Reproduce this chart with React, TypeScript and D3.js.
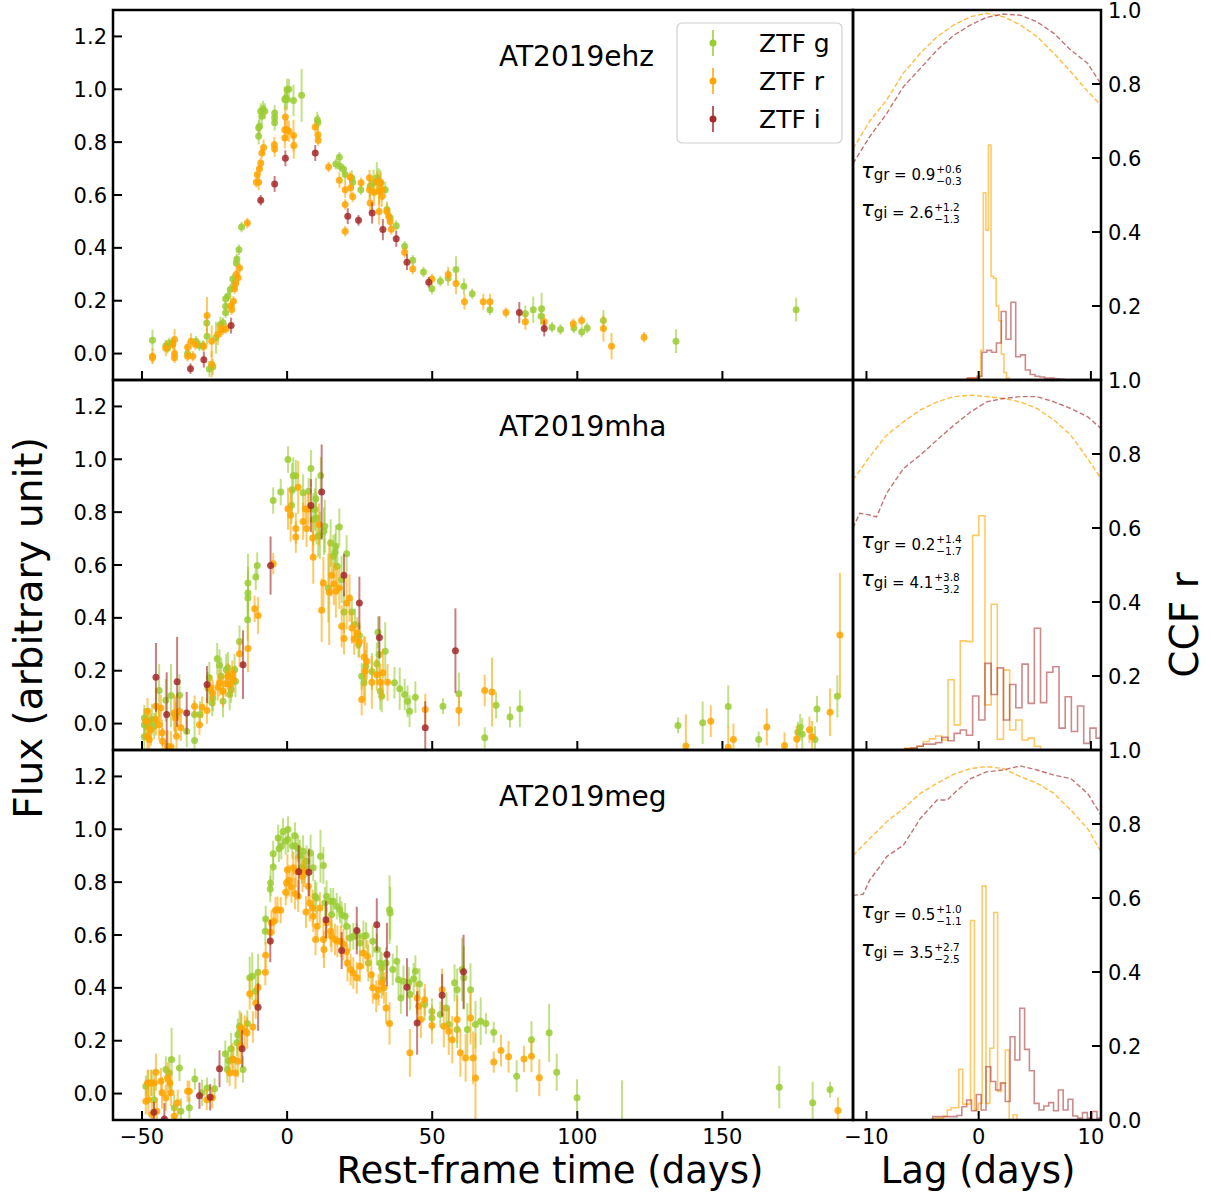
import { useEffect } from 'react'
import * as d3 from 'd3'

const FONT = 'DejaVu Sans, sans-serif'
const COLORS = { g: '#9acd32', r: '#ffa500', i: '#a52a2a' }

// page layout (px)
const W = 1211
const H = 1195
const LC_LEFT = 113
const SPLIT = 853
const CCF_RIGHT = 1101
const ROW_TOPS = [10, 380, 750]
const ROW_H = 370
const TICK = 9

const LC_X_DOMAIN: [number, number] = [-60, 195]
const LC_Y_DOMAIN: [number, number] = [-0.1, 1.3]
const LAG_DOMAIN: [number, number] = [-11.2, 10.9]

const lcXTicks = [-50, 0, 50, 100, 150]
const lcYTicks = [0, 0.2, 0.4, 0.6, 0.8, 1.0, 1.2]
const lagTicks = [-10, 0, 10]
const ccfTicks = [0, 0.2, 0.4, 0.6, 0.8, 1.0]

const sourceNames = ['AT2019ehz', 'AT2019mha', 'AT2019meg']
const bandLabels = ['ZTF g', 'ZTF r', 'ZTF i']

// light curves: [rest-frame day, flux, error]
type Pt = [number, number, number]

const ehzG: Pt[] = [
  [-46.4, 0.05, 0.04], [-41.8, 0.03, 0.02], [-41.2, 0.02, 0.02], [-40.6, 0.04, 0.02], [-39.4, 0.04, 0.02],
  [-34.3, 0.0, 0.02], [-31.4, 0.047, 0.02], [-30.2, 0.03, 0.02], [-29.1, 0.03, 0.02], [-26.8, -0.058, 0.03],
  [-25.6, -0.05, 0.03], [-27.7, 0.116, 0.03], [-27.6, 0.066, 0.03], [-24.5, 0.06, 0.06], [-23, 0.11, 0.03],
  [-22.1, 0.117, 0.02], [-21.2, 0.207, 0.02], [-21.2, 0.179, 0.02], [-21.2, 0.154, 0.02], [-20.4, 0.217, 0.02],
  [-19.6, 0.242, 0.02], [-18.7, 0.282, 0.02], [-18.3, 0.26, 0.02], [-17.5, 0.343, 0.02], [-17.3, 0.358, 0.02],
  [-16.6, 0.393, 0.02], [-15.7, 0.479, 0.02], [-9.8, 0.822, 0.03], [-9.8, 0.854, 0.03], [-9.5, 0.86, 0.03],
  [-9.1, 0.917, 0.03], [-8.7, 0.898, 0.03], [-8.3, 0.926, 0.03], [-7.7, 0.917, 0.03], [-4.3, 0.91, 0.03],
  [-4.3, 0.892, 0.03], [-4.3, 0.873, 0.03], [-0.8, 0.961, 0.04], [-0.5, 0.967, 0.04], [0, 1.0, 0.04],
  [0.6, 1.0, 0.04], [0, 0.961, 0.04], [2.2, 0.958, 0.06], [5.0, 0.977, 0.1], [10.4, 0.885, 0.03],
  [10.6, 0.873, 0.03], [16.8, 0.717, 0.02], [18, 0.743, 0.02], [18.2, 0.709, 0.02], [19.4, 0.697, 0.02],
  [20, 0.678, 0.03], [22.3, 0.664, 0.03], [22.6, 0.648, 0.02], [25.4, 0.62, 0.02], [28.6, 0.633, 0.04],
  [29.8, 0.646, 0.05], [30.9, 0.665, 0.06], [31.5, 0.652, 0.05], [32.1, 0.646, 0.05], [33.8, 0.62, 0.03],
  [34.4, 0.545, 0.03], [35.5, 0.514, 0.02], [37.6, 0.484, 0.02], [40.5, 0.406, 0.02], [43.3, 0.353, 0.02],
  [47, 0.309, 0.02], [49.9, 0.245, 0.02], [52.8, 0.274, 0.02], [55.5, 0.286, 0.03], [58.2, 0.318, 0.05],
  [60.9, 0.255, 0.03], [63.8, 0.226, 0.02], [69.9, 0.166, 0.02], [82.1, 0.151, 0.03], [84.8, 0.166, 0.05],
  [87.7, 0.17, 0.06], [87.5, 0.141, 0.03], [91.3, 0.1, 0.02], [94.2, 0.091, 0.02], [98.8, 0.097, 0.02],
  [101.5, 0.082, 0.02], [103.4, 0.097, 0.02], [109, 0.125, 0.04], [134, 0.047, 0.045], [175.4, 0.166, 0.045],
]
const ehzR: Pt[] = [
  [-46.4, -0.01, 0.03], [-46.4, -0.016, 0.02], [-41.8, 0.02, 0.03], [-39.4, 0.034, 0.02], [-38.8, 0.053, 0.04],
  [-38.8, 0, 0.02], [-38.8, -0.016, 0.02], [-34.3, 0.024, 0.02], [-34.3, -0.01, 0.02], [-33.1, 0.047, 0.03],
  [-32.5, -0.01, 0.02], [-31.6, 0.034, 0.02], [-28.7, 0.028, 0.02], [-27.6, 0.144, 0.07], [-26, 0.047, 0.06],
  [-26, -0.04, 0.05], [-23.9, 0.072, 0.04], [-22.7, 0.093, 0.03], [-22.1, 0.09, 0.02], [-21.0, 0.095, 0.02],
  [-19.3, 0.182, 0.02], [-19.1, 0.167, 0.02], [-18.5, 0.198, 0.02], [-18.1, 0.245, 0.02], [-17.7, 0.265, 0.02],
  [-17.5, 0.3, 0.02], [-16.9, 0.287, 0.02], [-16.4, 0.324, 0.02], [-13.7, 0.494, 0.02], [-10.6, 0.648, 0.02],
  [-10.3, 0.677, 0.03], [-9.8, 0.648, 0.03], [-9.5, 0.699, 0.02], [-9.1, 0.721, 0.02], [-8.7, 0.759, 0.02],
  [-8.1, 0.78, 0.03], [-4.4, 0.79, 0.03], [-4.3, 0.774, 0.03], [-0.6, 0.895, 0.04], [-0.8, 0.816, 0.04],
  [-0.8, 0.847, 0.04], [0, 0.847, 0.04], [0.6, 0.841, 0.04], [2.2, 0.825, 0.06], [2.3, 0.787, 0.05],
  [9.7, 0.857, 0.02], [10.6, 0.828, 0.02], [10.7, 0.807, 0.02], [14.3, 0.706, 0.02], [18, 0.656, 0.03],
  [20, 0.62, 0.03], [20, 0.564, 0.02], [20, 0.463, 0.02], [21.7, 0.668, 0.02], [21.9, 0.627, 0.03],
  [22.6, 0.593, 0.02], [25.5, 0.646, 0.02], [28.4, 0.665, 0.03], [28.4, 0.62, 0.04], [28.6, 0.57, 0.04],
  [30, 0.61, 0.05], [31.1, 0.652, 0.04], [31.7, 0.614, 0.05], [32.3, 0.646, 0.04], [32.6, 0.595, 0.04],
  [32.8, 0.62, 0.04], [31.7, 0.538, 0.05], [34.4, 0.538, 0.03], [35, 0.52, 0.03], [35.5, 0.5, 0.02],
  [35.9, 0.47, 0.02], [40.5, 0.383, 0.02], [43.3, 0.32, 0.02], [49.9, 0.282, 0.02], [55.5, 0.299, 0.03],
  [58.2, 0.265, 0.04], [61.1, 0.196, 0.03], [67.6, 0.196, 0.03], [69.9, 0.196, 0.03], [75.4, 0.155, 0.02],
  [82.1, 0.12, 0.03], [88.6, 0.12, 0.03], [98.6, 0.113, 0.02], [101.5, 0.125, 0.02], [109, 0.095, 0.05],
  [111.8, 0.028, 0.05], [123, 0.062, 0.02],
]
const ehzI: Pt[] = [
  [-33.3, -0.057, 0.02], [-28.7, -0.023, 0.03], [-19.3, 0.106, 0.03], [-9.1, 0.58, 0.02], [-4.3, 0.642, 0.03],
  [-0.6, 0.739, 0.03], [9.7, 0.759, 0.03], [20.9, 0.52, 0.03], [24.6, 0.504, 0.02], [29.3, 0.532, 0.04],
  [33, 0.469, 0.04], [37.6, 0.434, 0.03], [41.3, 0.346, 0.03], [48.8, 0.27, 0.02], [80, 0.155, 0.04],
  [88.6, 0.095, 0.03],
]

const mhaG: Pt[] = [
  [-49.2, 0.021, 0.05], [-49.2, -0.004, 0.06], [-49.2, -0.05, 0.05], [-48.1, -0.01, 0.06], [-47.5, 0.009, 0.05],
  [-46.6, 0.015, 0.06], [-45.8, -0.01, 0.05], [-44.1, 0.125, 0.1], [-41.8, 0.088, 0.08], [-40, 0.106, 0.12],
  [-38.5, 0.034, 0.07], [-37.1, 0.107, 0.08], [-34.6, -0.029, 0.06], [-31.9, -0.064, 0.05], [-31.9, 0.034, 0.05],
  [-30, 0.034, 0.05], [-27.3, 0.135, 0.06], [-26.8, 0.173, 0.06], [-25.8, 0.078, 0.05], [-25.6, 0.097, 0.05],
  [-24.1, 0.245, 0.06], [-23.3, 0.221, 0.06], [-22.7, 0.179, 0.07], [-22.1, 0.084, 0.06], [-21, 0.204, 0.06],
  [-20.4, 0.211, 0.06], [-19.8, 0.11, 0.06], [-19.3, 0.129, 0.05], [-18.1, 0.204, 0.06], [-17.8, 0.16, 0.06],
  [-16.4, 0.311, 0.06], [-13.6, 0.393, 0.08], [-13.5, 0.475, 0.1], [-13.5, 0.494, 0.1], [-13.5, 0.532, 0.11],
  [-10.8, 0.555, 0.05], [-10.3, 0.598, 0.05], [-4.8, 0.844, 0.05], [-2.2, 0.876, 0.05], [0.3, 0.999, 0.05],
  [1.5, 0.826, 0.07], [1.7, 0.885, 0.1], [2.1, 0.938, 0.07], [3, 0.938, 0.06], [5.5, 0.873, 0.07],
  [7.4, 0.879, 0.05], [8.2, 0.965, 0.07], [9, 0.772, 0.1], [9.6, 0.81, 0.08], [9.9, 0.851, 0.08],
  [10.1, 0.778, 0.1], [10.7, 0.709, 0.08], [11.3, 0.712, 0.09], [11.6, 0.939, 0.07], [12.7, 0.728, 0.09],
  [13, 0.747, 0.1], [14.2, 0.513, 0.13], [15, 0.683, 0.09], [15.9, 0.633, 0.08], [16.5, 0.648, 0.07],
  [16.8, 0.671, 0.08], [17.3, 0.595, 0.08], [18, 0.744, 0.07], [18.8, 0.545, 0.09], [19.6, 0.422, 0.08],
  [20.5, 0.643, 0.07], [22.3, 0.422, 0.05], [23.4, 0.375, 0.06], [24.6, 0.299, 0.05], [24.9, 0.333, 0.05],
  [25.7, 0.179, 0.05], [26.5, 0.154, 0.06], [27.1, 0.217, 0.06], [29.2, 0.197, 0.07], [30.9, 0.226, 0.08],
  [31.3, 0.346, 0.06], [31.7, 0.261, 0.08], [32.1, 0.122, 0.07], [32.6, 0.103, 0.06], [33.8, 0.274, 0.11],
  [37, 0.154, 0.06], [38.8, 0.132, 0.08], [40.5, 0.11, 0.06], [41.5, 0.084, 0.06], [42.2, 0.047, 0.06],
  [44.2, 0.1, 0.06], [53.7, 0.066, 0.03], [59.2, 0.113, 0.08], [68.1, -0.054, 0.04], [72, 0.069, 0.05],
  [76.8, 0.025, 0.04], [80.2, 0.056, 0.07], [134.7, -0.007, 0.03], [143.2, 0.003, 0.08], [152, 0.065, 0.08],
  [162.5, -0.06, 0.03], [176, -0.033, 0.04], [176.8, -0.014, 0.05], [177.5, -0.04, 0.06], [181.9, -0.06, 0.05],
  [182.6, 0.055, 0.05], [189.6, 0.103, 0.08],
]
const mhaR: Pt[] = [
  [-48.7, 0.009, 0.05], [-48.1, 0.047, 0.05], [-48.1, -0.048, 0.05], [-47.5, -0.06, 0.05], [-46.9, -0.023, 0.06],
  [-45.2, 0.066, 0.07], [-45.2, 0.015, 0.06], [-44.1, -0.004, 0.06], [-43.5, 0.059, 0.05], [-43.1, -0.035, 0.05],
  [-42.9, -0.067, 0.05], [-41.2, -0.086, 0.06], [-40, -0.088, 0.06], [-38.9, 0.04, 0.07], [-38.5, 0.021, 0.06],
  [-38.1, -0.048, 0.05], [-37.1, 0.047, 0.06], [-36.6, -0.016, 0.05], [-31.9, 0.066, 0.04], [-30.2, -0.004, 0.04],
  [-29.3, 0.062, 0.04], [-27.6, 0.049, 0.05], [-26.5, 0.135, 0.05], [-25.6, 0.116, 0.05], [-23.9, 0.137, 0.05],
  [-23.3, 0.154, 0.05], [-22.1, 0.122, 0.06], [-21.2, 0.151, 0.05], [-20.4, 0.179, 0.05], [-19.8, 0.148, 0.05],
  [-18.9, 0.189, 0.05], [-18.5, 0.166, 0.05], [-16.4, 0.264, 0.05], [-13.5, 0.284, 0.09], [-11.2, 0.434, 0.05],
  [-10, 0.409, 0.07], [-4.8, 0.605, 0.04], [0.3, 0.813, 0.08], [1.2, 0.788, 0.1], [3, 0.738, 0.06],
  [3, 0.706, 0.06], [3.8, 0.894, 0.1], [5.5, 0.765, 0.07], [6.3, 0.812, 0.06], [6.7, 0.738, 0.07],
  [7.3, 0.812, 0.06], [8.8, 0.702, 0.07], [9, 0.629, 0.1], [11, 0.753, 0.08], [11.9, 0.429, 0.12],
  [12.5, 0.532, 0.1], [14.5, 0.497, 0.2], [15.3, 0.561, 0.08], [16.1, 0.528, 0.08], [16.8, 0.501, 0.1],
  [18, 0.513, 0.08], [18.8, 0.368, 0.08], [19.6, 0.322, 0.06], [20.5, 0.456, 0.1], [21.5, 0.475, 0.09],
  [22.3, 0.362, 0.06], [23.1, 0.32, 0.06], [24.2, 0.343, 0.06], [24.9, 0.311, 0.06], [25.7, 0.091, 0.06],
  [26.5, 0.252, 0.08], [26.9, 0.198, 0.13], [27.5, 0.236, 0.07], [29.2, 0.156, 0.1], [30.9, 0.185, 0.06],
  [32.1, 0.156, 0.07], [33, 0.192, 0.09], [34.6, 0.156, 0.07], [47.6, 0.053, 0.06], [59.2, 0.05, 0.06],
  [68.1, 0.125, 0.06], [70.6, 0.119, 0.13], [137.4, -0.085, 0.12], [146, 0.009, 0.06], [152, -0.09, 0.08],
  [153.8, -0.06, 0.06], [165.3, -0.013, 0.07], [171.4, -0.083, 0.05], [175.6, -0.058, 0.05], [180, -0.023, 0.05],
  [180.9, -0.05, 0.06], [187.1, 0.043, 0.09], [190.5, 0.335, 0.235],
]
const mhaI: Pt[] = [
  [-45.2, 0.175, 0.13], [-41.5, 0.034, 0.16], [-37.9, 0.158, 0.17], [-34.6, 0.04, 0.08], [-27.6, 0.148, 0.07],
  [-15.2, 0.223, 0.13], [-5.7, 0.598, 0.11], [8.2, 0.825, 0.1], [11.9, 0.876, 0.18], [19.6, 0.561, 0.08],
  [24.9, 0.456, 0.1], [31.8, 0.326, 0.08], [47.6, -0.016, 0.1], [58, 0.276, 0.16],
]

const megG: Pt[] = [
  [-48.7, 0.028, 0.04], [-47.8, 0.04, 0.05], [-46.6, 0.04, 0.05], [-45.8, -0.023, 0.05], [-41.8, 0.091, 0.05],
  [-40.6, 0.078, 0.06], [-39.8, 0.129, 0.12], [-38.9, -0.054, 0.05], [-37.1, 0.097, 0.05], [-36.6, -0.067, 0.05],
  [-33.7, -0.054, 0.04], [-31.8, 0.055, 0.04], [-29.3, 0.003, 0.05], [-27.6, 0.021, 0.04], [-25, 0.018, 0.04],
  [-21.3, 0.151, 0.05], [-20.6, 0.091, 0.05], [-20.2, 0.125, 0.05], [-19.3, 0.17, 0.06], [-18.5, 0.129, 0.05],
  [-17.3, 0.192, 0.05], [-17, 0.223, 0.06], [-16.4, 0.255, 0.06], [-15.8, 0.242, 0.06], [-15.2, 0.091, 0.05],
  [-13.7, 0.265, 0.05], [-12.9, 0.438, 0.08], [-12, 0.444, 0.09], [-10.8, 0.387, 0.07], [-10, 0.459, 0.07],
  [-7.5, 0.614, 0.05], [-7.4, 0.661, 0.05], [-5.8, 0.774, 0.05], [-5.7, 0.797, 0.05], [-4.8, 0.857, 0.05],
  [-4.8, 0.907, 0.05], [-3.1, 0.967, 0.05], [-2.8, 0.926, 0.05], [-2, 0.936, 0.05], [-1.4, 0.992, 0.05],
  [-0.5, 0.955, 0.05], [0.3, 0.999, 0.05], [0.3, 0.961, 0.05], [1.8, 0.938, 0.05], [2.7, 0.976, 0.05],
  [3, 0.936, 0.05], [3.8, 0.927, 0.05], [4.4, 0.9, 0.06], [5, 0.854, 0.06], [5.5, 0.917, 0.06],
  [6.1, 0.854, 0.06], [6.7, 0.879, 0.06], [8.1, 0.91, 0.07], [9, 0.854, 0.05], [9.6, 0.747, 0.06],
  [10.1, 0.74, 0.06], [11.5, 0.898, 0.1], [12.5, 0.863, 0.07], [13, 0.721, 0.06], [13.6, 0.747, 0.06],
  [15, 0.728, 0.05], [15.3, 0.677, 0.05], [15.9, 0.728, 0.05], [17.1, 0.709, 0.05], [18.2, 0.696, 0.05],
  [18.8, 0.677, 0.05], [20, 0.671, 0.05], [20.5, 0.633, 0.05], [21.7, 0.589, 0.05], [22.8, 0.595, 0.05],
  [24, 0.595, 0.05], [25.1, 0.57, 0.05], [26.3, 0.595, 0.06], [27.2, 0.598, 0.05], [28, 0.494, 0.07],
  [29.5, 0.576, 0.06], [30.9, 0.545, 0.06], [32.1, 0.494, 0.06], [32.6, 0.475, 0.06], [33, 0.431, 0.06],
  [34.1, 0.494, 0.06], [35.3, 0.696, 0.13], [35.5, 0.683, 0.1], [36.4, 0.469, 0.06], [37.8, 0.501, 0.06],
  [38.4, 0.431, 0.06], [39.2, 0.362, 0.06], [40.1, 0.425, 0.06], [41.9, 0.419, 0.06], [42.4, 0.375, 0.06],
  [43.6, 0.434, 0.06], [44.2, 0.463, 0.06], [45.6, 0.415, 0.06], [47.4, 0.337, 0.06], [49.9, 0.286, 0.05],
  [49.9, 0.311, 0.05], [52.8, 0.299, 0.05], [54.9, 0.324, 0.06], [55.7, 0.261, 0.06], [57.7, 0.419, 0.07],
  [58.6, 0.393, 0.08], [58.6, 0.242, 0.07], [60.3, 0.469, 0.12], [60.9, 0.438, 0.12], [62.1, 0.242, 0.1],
  [63.2, 0.393, 0.1], [64.9, 0.261, 0.09], [66.7, 0.274, 0.09], [68.5, 0.265, 0.04], [71.2, 0.232, 0.04],
  [79.1, 0.066, 0.06], [84.2, 0.204, 0.07], [90.3, 0.23, 0.11], [92.9, 0.081, 0.07], [99.9, -0.016, 0.07],
  [115.4, -0.115, 0.165], [169.6, 0.024, 0.08], [181.1, -0.035, 0.08], [187.1, 0.015, 0.03],
]
const megR: Pt[] = [
  [-48.7, -0.029, 0.05], [-48.1, 0.04, 0.05], [-47.8, -0.023, 0.06], [-46.9, 0.04, 0.05], [-46.6, -0.079, 0.05],
  [-45.8, 0.04, 0.05], [-45.2, 0.081, 0.07], [-44.9, -0.067, 0.05], [-43.5, 0.047, 0.05], [-43.1, 0.003, 0.06],
  [-41.8, -0.016, 0.05], [-41.2, 0.059, 0.06], [-40.4, 0.04, 0.05], [-40, 0.003, 0.05], [-38.9, -0.086, 0.06],
  [-37.7, -0.035, 0.05], [-34.3, 0.009, 0.04], [-33.7, 0.009, 0.04], [-27.7, -0.023, 0.04], [-25.8, -0.016, 0.04],
  [-19.8, 0.078, 0.05], [-18.9, 0.131, 0.06], [-17.8, 0.078, 0.06], [-17, 0.122, 0.06], [-16.1, 0.182, 0.07],
  [-15.8, 0.248, 0.06], [-14.6, 0.236, 0.06], [-13.8, 0.23, 0.06], [-12.9, 0.378, 0.06], [-11.8, 0.252, 0.06],
  [-10.8, 0.343, 0.06], [-10, 0.402, 0.06], [-7.5, 0.459, 0.05], [-7.4, 0.523, 0.05], [-5.8, 0.61, 0.05],
  [-5.4, 0.646, 0.05], [-4.6, 0.652, 0.05], [-4, 0.694, 0.05], [-3.3, 0.696, 0.05], [-2.2, 0.694, 0.05],
  [-0.5, 0.762, 0.05], [-0.2, 0.797, 0.06], [0.1, 0.847, 0.06], [0.7, 0.806, 0.06], [1.5, 0.782, 0.06],
  [2.1, 0.854, 0.06], [2.7, 0.757, 0.06], [3, 0.841, 0.06], [3.8, 0.747, 0.06], [5.3, 0.822, 0.06],
  [5.8, 0.841, 0.06], [6.5, 0.687, 0.06], [7.3, 0.784, 0.06], [7.8, 0.721, 0.07], [8.8, 0.702, 0.07],
  [9, 0.671, 0.06], [9.8, 0.583, 0.06], [10.4, 0.633, 0.06], [11.3, 0.702, 0.06], [12.5, 0.583, 0.07],
  [12.7, 0.545, 0.07], [13.6, 0.646, 0.06], [15, 0.614, 0.06], [15.3, 0.595, 0.06], [16.5, 0.583, 0.06],
  [17.3, 0.576, 0.06], [18.5, 0.576, 0.06], [19.4, 0.564, 0.06], [20.5, 0.538, 0.06], [20.8, 0.494, 0.07],
  [21.9, 0.469, 0.06], [22.8, 0.456, 0.06], [24, 0.438, 0.06], [25.1, 0.482, 0.06], [26.3, 0.532, 0.06],
  [27.7, 0.52, 0.06], [29, 0.45, 0.06], [29.5, 0.4, 0.06], [30.7, 0.368, 0.06], [31.5, 0.393, 0.06],
  [32.6, 0.419, 0.06], [33.4, 0.4, 0.06], [34.1, 0.324, 0.06], [35.3, 0.265, 0.08], [42.3, 0.154, 0.09],
  [44.8, 0.362, 0.06], [45.3, 0.33, 0.06], [46.1, 0.28, 0.07], [47.4, 0.355, 0.06], [49.9, 0.258, 0.07],
  [53.4, 0.393, 0.08], [54, 0.255, 0.08], [55.7, 0.236, 0.09], [56.9, 0.204, 0.09], [58.6, 0.28, 0.09],
  [59.7, 0.154, 0.09], [61.5, 0.135, 0.09], [63.2, 0.286, 0.1], [64.1, 0.135, 0.1], [64.9, 0.059, 0.17],
  [71.2, 0.119, 0.04], [73.7, 0.163, 0.06], [76.3, 0.139, 0.06], [81.6, 0.131, 0.05], [84.2, 0.141, 0.06],
  [86.9, 0.06, 0.07], [189.8, -0.064, 0.05],
]
const megI: Pt[] = [
  [-45.9, -0.071, 0.04], [-42.3, -0.096, 0.06], [-30.2, -0.008, 0.05], [-26.5, -0.014, 0.05], [-23.3, 0.094, 0.07],
  [-15.5, 0.17, 0.07], [-10, 0.327, 0.09], [-5.8, 0.577, 0.08], [4, 0.839, 0.1], [7.5, 0.837, 0.09],
  [13.4, 0.658, 0.07], [18.8, 0.541, 0.07], [24, 0.617, 0.09], [30.9, 0.639, 0.1], [34.4, 0.526, 0.12],
  [41.3, 0.402, 0.11], [44.8, 0.267, 0.12], [53.4, 0.372, 0.08], [60.8, 0.461, 0.14],
]

// cross-correlation functions: [lag, r]
const ehzCcfGR: [number, number][] = [
  [-11.2, 0.625], [-9.7, 0.7], [-8.2, 0.757], [-6.7, 0.83], [-5.2, 0.883], [-3.7, 0.928], [-2.2, 0.96], [-0.7, 0.982],
  [0.7, 0.991], [2.2, 0.982], [3.7, 0.96], [5.2, 0.928], [6.7, 0.883], [8.2, 0.833], [9.7, 0.78], [10.9, 0.743],
]
const ehzCcfGI: [number, number][] = [
  [-11.2, 0.585], [-9.7, 0.658], [-8.2, 0.72], [-6.7, 0.793], [-5.2, 0.842], [-3.7, 0.892], [-2.2, 0.932], [-0.7, 0.96],
  [0.7, 0.98], [2.2, 0.989], [3.7, 0.986], [5.2, 0.968], [6.7, 0.937], [8.2, 0.892], [9.7, 0.856], [10.9, 0.8],
]
const mhaCcfGR: [number, number][] = [
  [-11.2, 0.73], [-9.7, 0.793], [-8.2, 0.851], [-6.7, 0.887], [-5.2, 0.919], [-3.7, 0.941], [-2.2, 0.955], [-0.7, 0.959],
  [0.7, 0.955], [2.2, 0.95], [3.7, 0.941], [5.2, 0.923], [6.7, 0.892], [8.2, 0.851], [9.7, 0.788], [10.9, 0.734],
]
const mhaCcfGI: [number, number][] = [
  [-11.2, 0.6], [-10.6, 0.64], [-9.7, 0.635], [-9.1, 0.63], [-8.2, 0.694], [-6.7, 0.761], [-5.2, 0.797], [-3.7, 0.838],
  [-2.2, 0.878], [-0.7, 0.914], [0.7, 0.941], [2.2, 0.95], [3.7, 0.955], [5.2, 0.955], [6.7, 0.941], [8.2, 0.923],
  [9.7, 0.901], [10.9, 0.869],
]
const megCcfGR: [number, number][] = [
  [-11.2, 0.715], [-9.7, 0.761], [-8.2, 0.806], [-6.7, 0.842], [-5.2, 0.883], [-3.7, 0.91], [-2.2, 0.935], [-0.7, 0.95],
  [0.7, 0.955], [2.2, 0.95], [3.7, 0.928], [5.2, 0.91], [6.7, 0.883], [8.2, 0.838], [9.7, 0.788], [10.9, 0.725],
]
const megCcfGI: [number, number][] = [
  [-11.2, 0.607], [-10.3, 0.61], [-9.7, 0.649], [-8.8, 0.685], [-8.2, 0.712], [-6.7, 0.743], [-5.2, 0.815], [-3.7, 0.865],
  [-2.8, 0.865], [-2.2, 0.883], [-0.7, 0.923], [0.7, 0.941], [2.2, 0.946], [3.7, 0.957], [5.2, 0.946], [6.7, 0.932],
  [8.2, 0.923], [9.7, 0.883], [10.9, 0.824],
]

// lag distributions (CCCD), normalised heights per bin
type Hist = { start: number; width: number; counts: number[] }
const ehzHistGR: Hist = {
  start: -1.2, width: 0.23,
  counts: [0.003, 0.004, 0.005, 0.005, 0.005, 0.006, 0.08, 0.506, 0.405, 0.635, 0.28, 0.275, 0.2, 0.16, 0.07, 0.02, 0.005],
}
const ehzHistGI: Hist = {
  start: -1.0, width: 0.43,
  counts: [0.005, 0.005, 0.01, 0.075, 0.08, 0.075, 0.1, 0.185, 0.11, 0.21, 0.063, 0.068, 0.027, 0.015, 0.01, 0.008, 0.005, 0.005, 0.003, 0.002],
}
const mhaHistGR: Hist = {
  start: -6.59, width: 0.55,
  counts: [0.005, 0.005, 0.01, 0.023, 0.03, 0.038, 0.027, 0.19, 0.068, 0.295, 0.293, 0.58, 0.633, 0.122, 0.394, 0.029, 0.216, 0.054, 0.081, 0.027, 0.032, 0.01],
}
const mhaHistGI: Hist = {
  start: -6.59, width: 0.55,
  counts: [0.003, 0.005, 0.01, 0.016, 0.016, 0.02, 0.034, 0.025, 0.045, 0.054, 0.04, 0.146, 0.081, 0.234, 0.15, 0.222, 0.081, 0.177, 0.114, 0.232, 0.126, 0.329, 0.128, 0.21, 0.225, 0.059, 0.144, 0.05, 0.119, 0.018, 0.059, 0.032],
}
const megHistGR: Hist = {
  start: -4.18, width: 0.345,
  counts: [0.003, 0.005, 0.005, 0.01, 0.027, 0.033, 0.033, 0.137, 0.043, 0.043, 0.539, 0.027, 0.045, 0.632, 0.045, 0.194, 0.561, 0.077, 0.099, 0.189, 0.0, 0.014],
}
const megHistGI: Hist = {
  start: -4.08, width: 0.43,
  counts: [0.009, 0.009, 0.009, 0.009, 0.009, 0.012, 0.036, 0.054, 0.025, 0.069, 0.027, 0.144, 0.104, 0.081, 0.1, 0.05, 0.225, 0.162, 0.302, 0.191, 0.133, 0.045, 0.027, 0.038, 0.047, 0.025, 0.081, 0.027, 0.056, 0.011, 0.005, 0.02, 0.005, 0.023, 0.005],
}

// measured lags: [band, value, +err, -err]
const lagText: [string, string, string, string][][] = [
  [['gr', '0.9', '+0.6', '−0.3'], ['gi', '2.6', '+1.2', '−1.3']],
  [['gr', '0.2', '+1.4', '−1.7'], ['gi', '4.1', '+3.8', '−3.2']],
  [['gr', '0.5', '+1.0', '−1.1'], ['gi', '3.5', '+2.7', '−2.5']],
]

const lightCurves = [
  { g: ehzG, r: ehzR, i: ehzI },
  { g: mhaG, r: mhaR, i: mhaI },
  { g: megG, r: megR, i: megI },
]
const ccfs = [
  { gr: ehzCcfGR, gi: ehzCcfGI, hgr: ehzHistGR, hgi: ehzHistGI },
  { gr: mhaCcfGR, gi: mhaCcfGI, hgr: mhaHistGR, hgi: mhaHistGI },
  { gr: megCcfGR, gi: megCcfGI, hgr: megHistGR, hgi: megHistGI },
]

const fmtTick = (v: number) => (v < 0 ? '−' : '') + Math.abs(v).toString()

let measureCtx: CanvasRenderingContext2D | null = null
function textWidth(s: string, size: number, italic = false) {
  if (!measureCtx) measureCtx = document.createElement('canvas').getContext('2d')
  if (!measureCtx) return s.length * size * 0.6
  measureCtx.font = `${italic ? 'italic ' : ''}${size}px DejaVu Sans`
  return measureCtx.measureText(s).width
}

function ErrPoints({ data, color, x, y }: { data: Pt[]; color: string; x: any; y: any }) {
  return (
    <g>
      {data.map((d, k) => (
        <g key={k}>
          <line x1={x(d[0])} x2={x(d[0])} y1={y(d[1] - d[2])} y2={y(d[1] + d[2])}
            stroke={color} strokeWidth={2} strokeOpacity={0.6} />
          <circle cx={x(d[0])} cy={y(d[1])} r={3.5} fill={color} fillOpacity={0.85} />
        </g>
      ))}
    </g>
  )
}

function LightCurvePanel({ row }: { row: number }) {
  const top = ROW_TOPS[row]
  const x = d3.scaleLinear().domain(LC_X_DOMAIN).range([LC_LEFT, SPLIT])
  const y = d3.scaleLinear().domain(LC_Y_DOMAIN).range([top + ROW_H, top])
  const lc = lightCurves[row]
  const clipId = `lc-clip-${row}`
  const bottom = top + ROW_H
  return (
    <g>
      <clipPath id={clipId}>
        <rect x={LC_LEFT} y={top} width={SPLIT - LC_LEFT} height={ROW_H} />
      </clipPath>
      <g clipPath={`url(#${clipId})`}>
        <ErrPoints data={lc.g} color={COLORS.g} x={x} y={y} />
        <ErrPoints data={lc.r} color={COLORS.r} x={x} y={y} />
        <ErrPoints data={lc.i} color={COLORS.i} x={x} y={y} />
      </g>
      <text x={499} y={top + 56} fontSize={28} fontFamily={FONT}>{sourceNames[row]}</text>
      {lcYTicks.map((t) => (
        <g key={t}>
          <line x1={LC_LEFT} x2={LC_LEFT + TICK} y1={y(t)} y2={y(t)} stroke="#000" strokeWidth={2} />
          <text x={107} y={y(t)} dy="0.36em" textAnchor="end" fontSize={21} fontFamily={FONT}>
            {t.toFixed(1)}
          </text>
        </g>
      ))}
      {lcXTicks.map((t) => (
        <g key={t}>
          <line x1={x(t)} x2={x(t)} y1={bottom} y2={bottom - TICK} stroke="#000" strokeWidth={2} />
          {row === 2 && (
            <text x={x(t)} y={1144} textAnchor="middle" fontSize={21} fontFamily={FONT}>{fmtTick(t)}</text>
          )}
        </g>
      ))}
    </g>
  )
}

function histPath(h: Hist, x: any, y: any) {
  const pts: [number, number][] = [[h.start, 0]]
  h.counts.forEach((c, k) => pts.push([h.start + k * h.width, c]))
  const end = h.start + h.counts.length * h.width
  pts.push([end, h.counts[h.counts.length - 1]])
  pts.push([end, 0])
  return d3.line<[number, number]>().x((d) => x(d[0])).y((d) => y(d[1])).curve(d3.curveStepAfter)(pts) ?? ''
}

function LagLabel({ items, x0, base }: { items: [string, string, string, string]; x0: number; base: number }) {
  const [band, val, up, lo] = items
  const tauW = textWidth('τ', 21, true)
  const main = `${band} = ${val}`
  const mainW = textWidth(main, 15)
  const xs = x0 + tauW + mainW + 1
  return (
    <g fontFamily={FONT} fill="#000">
      <text x={x0} y={base} fontSize={21} fontStyle="italic">τ</text>
      <text x={x0 + tauW} y={base + 2} fontSize={15}>{main}</text>
      <text x={xs} y={base - 5} fontSize={10.5}>{up}</text>
      <text x={xs} y={base + 7} fontSize={10.5}>{lo}</text>
    </g>
  )
}

function CcfPanel({ row }: { row: number }) {
  const top = ROW_TOPS[row]
  const bottom = top + ROW_H
  const x = d3.scaleLinear().domain(LAG_DOMAIN).range([SPLIT, CCF_RIGHT])
  const y = d3.scaleLinear().domain([0, 1]).range([bottom, top])
  const c = ccfs[row]
  const clipId = `ccf-clip-${row}`
  const line = d3.line<[number, number]>().x((d) => x(d[0])).y((d) => y(d[1]))
  const yLabels = row === 2 ? ccfTicks : ccfTicks.filter((t) => t > 0)
  return (
    <g>
      <clipPath id={clipId}>
        <rect x={SPLIT} y={top} width={CCF_RIGHT - SPLIT} height={ROW_H} />
      </clipPath>
      <g clipPath={`url(#${clipId})`} fill="none">
        <path d={line(c.gr) ?? ''} stroke={COLORS.r} strokeOpacity={0.75} strokeWidth={1.4} strokeDasharray="5,2.5" />
        <path d={line(c.gi) ?? ''} stroke={COLORS.i} strokeOpacity={0.65} strokeWidth={1.4} strokeDasharray="5,2.5" />
        <path d={histPath(c.hgr, x, y)} stroke={COLORS.r} strokeOpacity={0.6} strokeWidth={1.6} />
        <path d={histPath(c.hgi, x, y)} stroke={COLORS.i} strokeOpacity={0.55} strokeWidth={1.6} />
      </g>
      <LagLabel items={lagText[row][0]} x0={861} base={top + 168} />
      <LagLabel items={lagText[row][1]} x0={861} base={top + 206} />
      {ccfTicks.map((t) => (
        <line key={t} x1={CCF_RIGHT} x2={CCF_RIGHT - TICK} y1={y(t)} y2={y(t)} stroke="#000" strokeWidth={2} />
      ))}
      {yLabels.map((t) => (
        <text key={t} x={1108} y={y(t)} dy="0.36em" fontSize={21} fontFamily={FONT}>{t.toFixed(1)}</text>
      ))}
      {lagTicks.map((t) => (
        <g key={t}>
          <line x1={x(t)} x2={x(t)} y1={bottom} y2={bottom - TICK} stroke="#000" strokeWidth={2} />
          {row === 2 && (
            <text x={x(t)} y={1144} textAnchor="middle" fontSize={21} fontFamily={FONT}>{fmtTick(t)}</text>
          )}
        </g>
      ))}
    </g>
  )
}

function Legend() {
  const colors = [COLORS.g, COLORS.r, COLORS.i]
  return (
    <g>
      <rect x={677} y={23} width={165} height={120} rx={5} fill="#fff" fillOpacity={0.8} stroke="#d0d0d0" strokeWidth={1.2} />
      {bandLabels.map((lab, k) => {
        const cy = 43 + k * 38
        return (
          <g key={lab}>
            <line x1={713} x2={713} y1={cy - 13} y2={cy + 13} stroke={colors[k]} strokeWidth={2} strokeOpacity={0.75} />
            <circle cx={713} cy={cy} r={3.5} fill={colors[k]} />
            <text x={759} y={cy} dy="0.36em" fontSize={25} fontFamily={FONT}>{lab}</text>
          </g>
        )
      })}
    </g>
  )
}

export default function App() {
  useEffect(() => {
    document.body.style.margin = '0'
  }, [])
  const rows = [0, 1, 2]
  return (
    <svg width={W} height={H} style={{ display: 'block', background: '#fff' }}>
      <rect width={W} height={H} fill="#fff" />
      {rows.map((r) => (
        <g key={r}>
          <LightCurvePanel row={r} />
          <CcfPanel row={r} />
        </g>
      ))}
      {rows.map((r) => (
        <g key={`frame-${r}`} fill="none" stroke="#000" strokeWidth={2.5}>
          <rect x={LC_LEFT} y={ROW_TOPS[r]} width={SPLIT - LC_LEFT} height={ROW_H} />
          <rect x={SPLIT} y={ROW_TOPS[r]} width={CCF_RIGHT - SPLIT} height={ROW_H} />
        </g>
      ))}
      <Legend />
      <text x={550} y={1183} textAnchor="middle" fontSize={37} fontFamily={FONT}>Rest-frame time (days)</text>
      <text x={978} y={1183} textAnchor="middle" fontSize={37} fontFamily={FONT}>Lag (days)</text>
      <text transform="translate(42,628) rotate(-90)" textAnchor="middle" fontSize={39} fontFamily={FONT}>
        Flux (arbitrary unit)
      </text>
      <text transform="translate(1198,625) rotate(-90)" textAnchor="middle" fontSize={39} fontFamily={FONT}>
        CCF r
      </text>
    </svg>
  )
}
